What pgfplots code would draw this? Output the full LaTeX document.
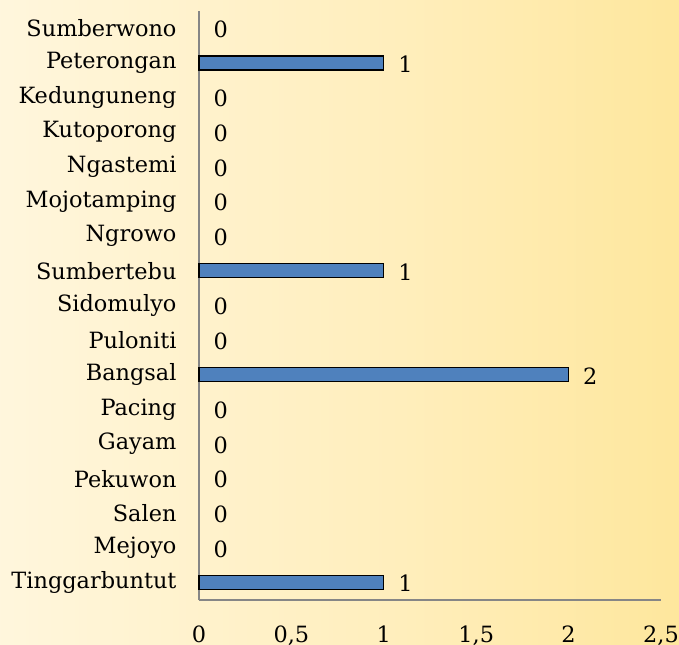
\documentclass[border=0pt]{standalone}
\usepackage{fontspec}
\setmainfont{DejaVu Serif}
\usepackage{pgfplots}
\pgfplotsset{compat=1.18}
\definecolor{barblue}{RGB}{79,129,189}
\definecolor{axisgrey}{RGB}{134,134,134}
\pgfdeclarehorizontalshading{bgshade}{100bp}{
  rgb(0bp)=(1,0.973,0.886);
  rgb(25bp)=(1,0.965,0.865);
  rgb(55bp)=(1,0.933,0.735);
  rgb(80bp)=(0.996,0.898,0.585);
  rgb(100bp)=(0.992,0.855,0.440)}
\begin{document}
\begin{tikzpicture}
\path[shading=bgshade] (0,0) rectangle (679bp,645bp);
\begin{axis}[
  at={(199bp,45bp)}, anchor=south west,
  scale only axis, width=462bp, height=589bp,
  xmin=0, xmax=2.5, ymin=-0.5, ymax=16.5,
  xtick={0,0.5,1,1.5,2,2.5},
  ytick={0,...,16},
  yticklabels={Tinggarbuntut,Mejoyo,Salen,Pekuwon,Gayam,Pacing,Bangsal,Puloniti,Sidomulyo,Sumbertebu,Ngrowo,Mojotamping,Ngastemi,Kutoporong,Kedunguneng,Peterongan,Sumberwono},
  /pgf/number format/use comma,
  /pgf/number format/assume math mode=true,
  major tick length=0pt,
  axis x line*=bottom, axis y line*=left,
  axis line style={axisgrey, line width=1.2pt, -},
  tick label style={font=\fontsize{22.5}{26}\selectfont, text=black},
  xticklabel style={yshift=-22bp},
  yticklabel style={xshift=-19bp},
  clip=false,
]
\addplot[xbar, bar width=14bp, bar shift=0pt, fill=barblue, draw=black, line width=1.2pt]
  coordinates {(1,0) (2,6) (1,9) (1,15)};
\addplot[only marks, mark=none, point meta=explicit symbolic,
  nodes near coords,
  every node near coord/.style={anchor=west, xshift=11bp, yshift=-1bp, font=\fontsize{22.5}{26}\selectfont, text=black}]
  coordinates {(1,0)[1] (0,1)[0] (0,2)[0] (0,3)[0] (0,4)[0] (0,5)[0] (2,6)[2] (0,7)[0] (0,8)[0] (1,9)[1] (0,10)[0] (0,11)[0] (0,12)[0] (0,13)[0] (0,14)[0] (1,15)[1] (0,16)[0]};
\end{axis}
\pgfresetboundingbox
\path[use as bounding box] (0,0) rectangle (679bp,645bp);
\end{tikzpicture}
\end{document}
